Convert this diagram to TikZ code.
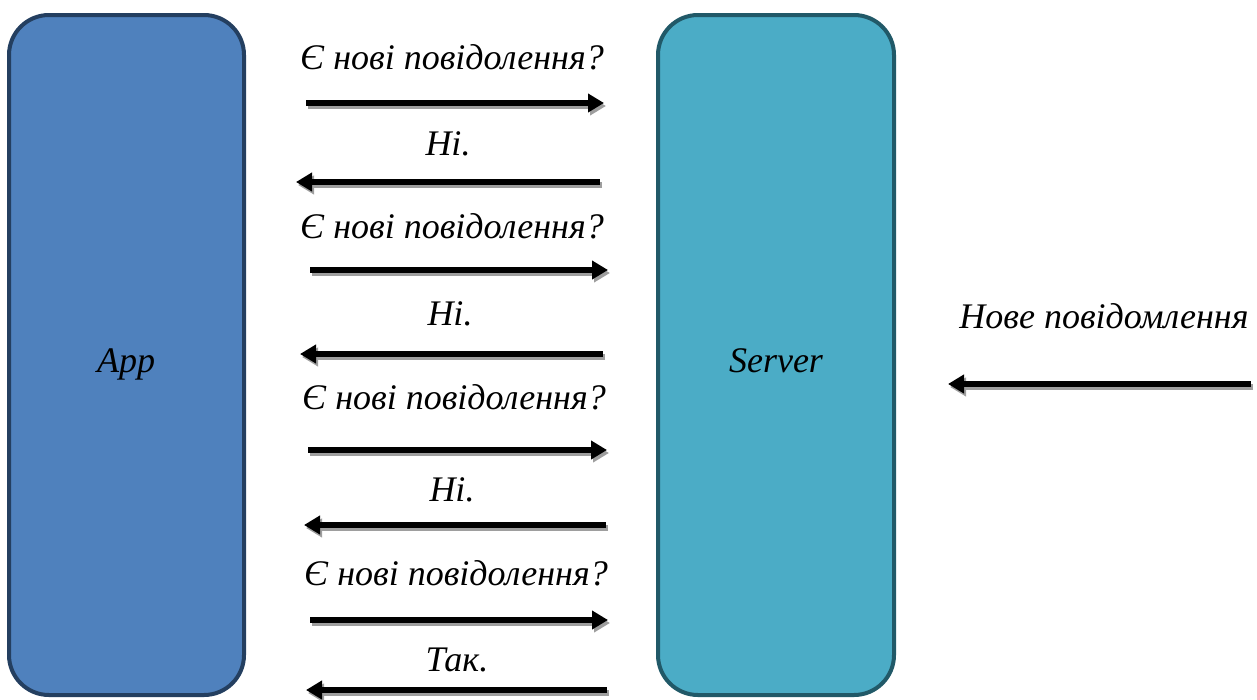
\documentclass[tikz,border=0pt]{standalone}
\usepackage{fontspec}
\setmainfont{Liberation Serif}
\usetikzlibrary{arrows.meta}
\definecolor{appfill}{HTML}{4F81BD}
\definecolor{appdraw}{HTML}{243F60}
\definecolor{srvfill}{HTML}{4BACC6}
\definecolor{srvdraw}{HTML}{215968}
\tikzset{
  box/.style={line width=4pt, rounded corners=40pt},
  msg/.style={line width=5.5pt, -{Triangle[length=16pt,width=18pt]}},
  msgshadow/.style={msg, draw=black!38, transform canvas={shift={(2pt,-3pt)}}},
  lbl/.style={font=\fontsize{36}{40}\selectfont\itshape, anchor=base, inner sep=0pt},
}
\begin{document}
\begin{tikzpicture}[x=1pt,y=-1pt]
\useasboundingbox (0,0) rectangle (1257,699);
% boxes
\draw[box, fill=appfill, draw=appdraw] (9,15) rectangle (244,695);
\draw[box, fill=srvfill, draw=srvdraw] (658,15) rectangle (894,695);
\node[lbl] (app) at (126,372) {App};
\node[lbl] (srv) at (776,372) {Server};
% labels
\node[lbl] (q1) at (452,69) {Є нові повідолення?};
\node[lbl] (n1) at (448,155) {Ні.};
\node[lbl] (q2) at (452,238) {Є нові повідолення?};
\node[lbl] (n2) at (450,325) {Ні.};
\node[lbl] (q3) at (454,409) {Є нові повідолення?};
\node[lbl] (n3) at (452,501) {Ні.};
\node[lbl] (q4) at (456,585) {Є нові повідолення?};
\node[lbl] (t4) at (457,671) {Так.};
\node[lbl] (nm) at (1104,328) {Нове повідомлення};
% arrow end points
\coordinate (a1s) at (306,103); \coordinate (a1e) at (604,103);
\coordinate (a2s) at (600,182); \coordinate (a2e) at (296,182);
\coordinate (a3s) at (310,270); \coordinate (a3e) at (608,270);
\coordinate (a4s) at (603,354); \coordinate (a4e) at (300,354);
\coordinate (a5s) at (308,450); \coordinate (a5e) at (607,450);
\coordinate (a6s) at (606,525); \coordinate (a6e) at (304,525);
\coordinate (a7s) at (310,620); \coordinate (a7e) at (608,620);
\coordinate (a8s) at (607,690); \coordinate (a8e) at (306,690);
\coordinate (a9s) at (1251,384); \coordinate (a9e) at (948,384);
\foreach \i in {1,...,9}{
  \draw[msgshadow] (a\i s) -- (a\i e);
  \draw[msg] (a\i s) -- (a\i e);
}
\end{tikzpicture}
\end{document}
